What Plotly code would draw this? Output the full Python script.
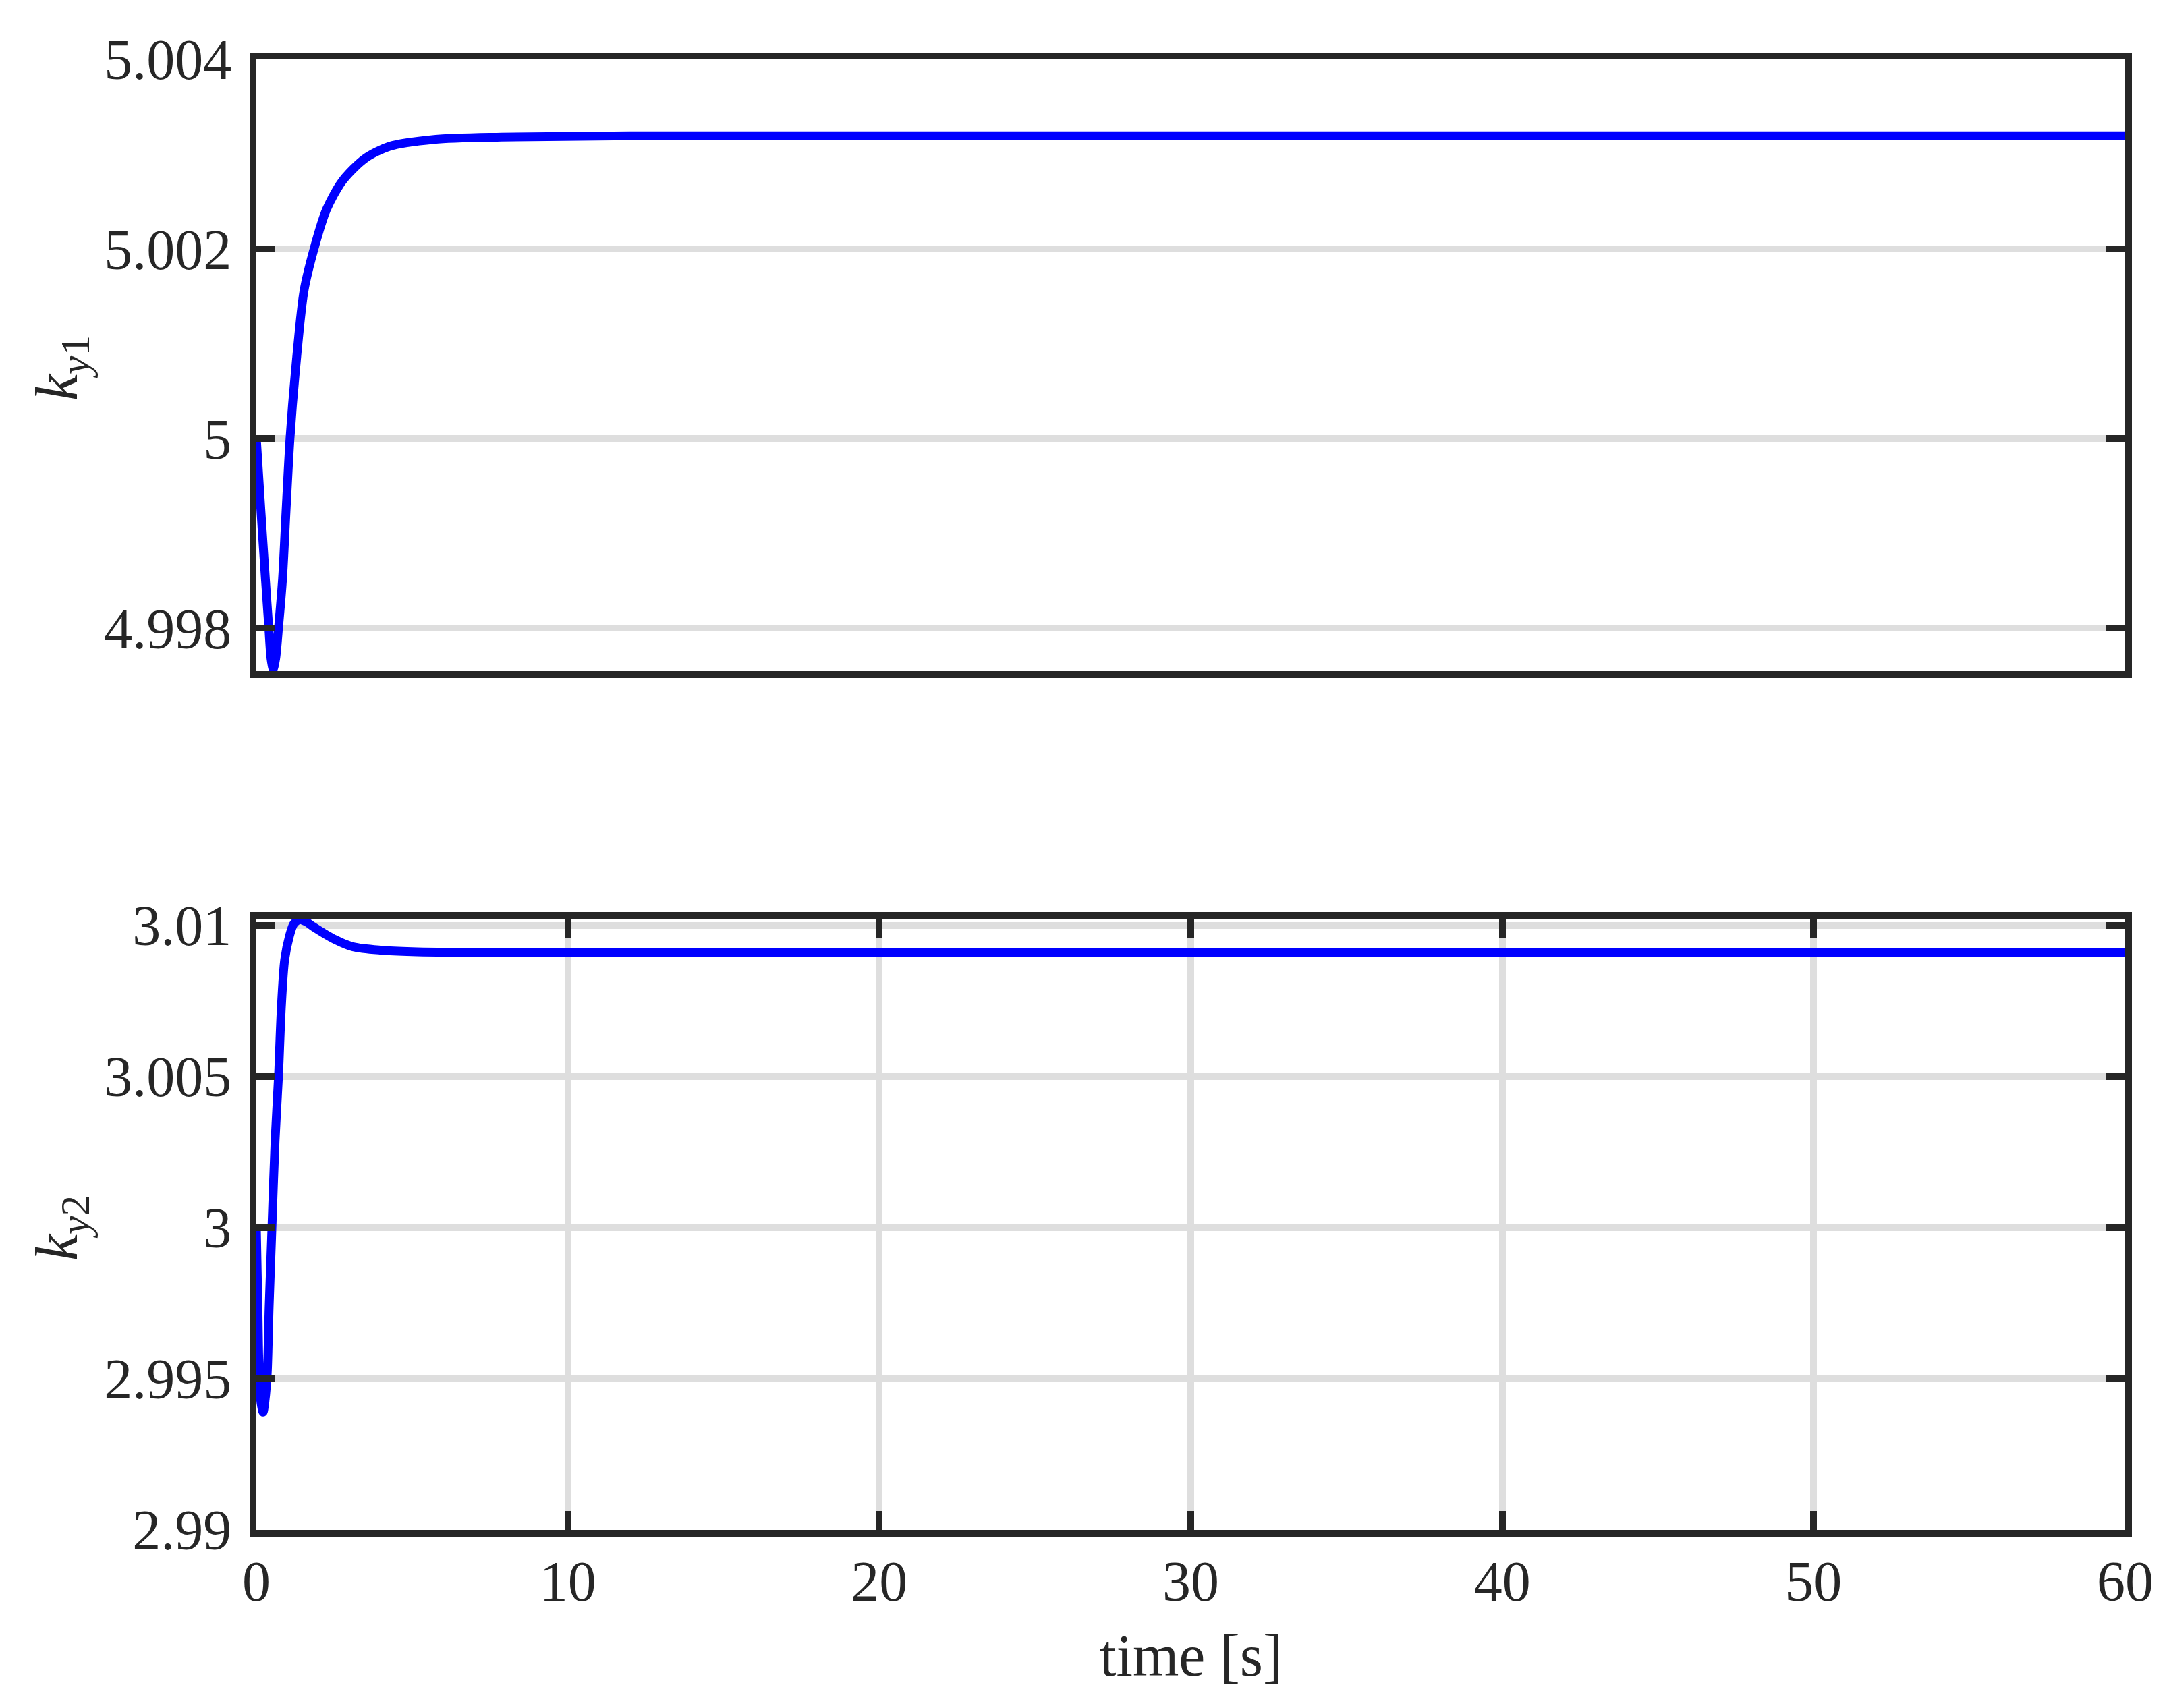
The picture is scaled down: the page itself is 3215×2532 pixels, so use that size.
import plotly.graph_objects as go
from plotly.subplots import make_subplots

# ---- data ----
t_ky1 = [0, 0.15, 0.29, 0.40, 0.47, 0.54, 0.62, 0.71, 0.84, 0.95, 1.08, 1.25,
         1.53, 1.85, 2.25, 2.76, 3.48, 4.27, 5.71, 7.87, 12, 60]
ky1 = [5.0, 4.99922, 4.99852, 4.998, 4.99768, 4.99757, 4.99768, 4.998, 4.99852,
       4.99922, 5.0, 5.0007, 5.00156, 5.002, 5.002416, 5.002717, 5.002953,
       5.003082, 5.003155, 5.00318, 5.003195, 5.003195]

t_ky2 = [0, 0.05, 0.09, 0.15, 0.216, 0.28, 0.35, 0.41, 0.50, 0.60, 0.71, 0.80,
         0.91, 1.06, 1.2, 1.38, 1.6, 1.81, 2.53, 3.11, 4.0, 5.0, 7.0, 60]
ky2 = [3.0, 2.99738, 2.99519, 2.9942, 2.9939, 2.9943, 2.9952, 2.99738, 3.0,
       3.00286, 3.005, 3.00725, 3.00887, 3.00964, 3.01005, 3.01019, 3.01012,
       3.00997, 3.00953, 3.00929, 3.00918, 3.00913, 3.0091, 3.0091]

x_ticks = [0, 10, 20, 30, 40, 50, 60]
x_ticktext = ["0", "10", "20", "30", "40", "50", "60"]
y1_ticks = [4.998, 5.0, 5.002, 5.004]
y1_ticktext = ["4.998", "5", "5.002", "5.004"]
y2_ticks = [2.99, 2.995, 3.0, 3.005, 3.01]
y2_ticktext = ["2.99", "2.995", "3", "3.005", "3.01"]

y1_label = "<i>k</i><sub><i>y</i>1</sub>"
y2_label = "<i>k</i><sub><i>y</i>2</sub>"
x_label = "time [s]"

# ---- styling ----
W, H = 3215, 2532
ML, MR, MT, MB = 372, 73, 80, 272
FONT = "Liberation Serif"
FS = 84
FS_T = 88
AX = "#262626"
GRID = "#dedede"
BLUE = "#0000ff"

fig = make_subplots(rows=2, cols=1, vertical_spacing=0.0)

fig.add_trace(go.Scatter(x=t_ky1, y=ky1, mode="lines",
                         line=dict(color=BLUE, width=13, shape="spline", smoothing=0.8),
                         showlegend=False), row=1, col=1)
fig.add_trace(go.Scatter(x=t_ky2, y=ky2, mode="lines",
                         line=dict(color=BLUE, width=13, shape="spline", smoothing=0.8),
                         showlegend=False), row=2, col=1)

common_axis = dict(showline=True, linecolor=AX, linewidth=10, mirror=True,
                   tickcolor=AX, tickwidth=10, ticklen=28, zeroline=False,
                   gridcolor=GRID, gridwidth=10,
                   tickfont=dict(family=FONT, size=FS, color=AX))

plot_w = W - ML - MR
plot_h = H - MT - MB

# top plot
fig.update_xaxes(common_axis, row=1, col=1, range=[0, 60], showgrid=False,
                 ticks="", showticklabels=False, mirror=True,
                 domain=[0, 1])
fig.update_yaxes(common_axis, row=1, col=1, range=[4.997547, 5.004],
                 tickmode="array", tickvals=y1_ticks, ticktext=y1_ticktext,
                 ticks="inside", mirror="ticks", showgrid=True,
                 ticklabelstandoff=10,
                 domain=[(H - MB - 987) / plot_h, 1.0])
# bottom plot
fig.update_xaxes(common_axis, row=2, col=1, range=[0, 60],
                 tickmode="array", tickvals=x_ticks, ticktext=x_ticktext,
                 ticks="inside", mirror="ticks", showgrid=True,
                 ticklabelstandoff=-6,
                 domain=[0, 1])
fig.update_yaxes(common_axis, row=2, col=1, range=[2.99, 3.01022],
                 tickmode="array", tickvals=y2_ticks, ticktext=y2_ticktext,
                 ticks="inside", mirror="ticks", showgrid=True,
                 ticklabelstandoff=10,
                 domain=[0.0, (H - MB - 1354) / plot_h])


def px_to_paper_x(px):
    return (px - ML) / plot_w


def px_to_paper_y(py):
    return (H - MB - py) / plot_h


annotations = [
    dict(text=y1_label, x=px_to_paper_x(82), y=px_to_paper_y(538),
         xref="paper", yref="paper", showarrow=False, textangle=-90,
         xanchor="center", yanchor="middle",
         font=dict(family=FONT, size=FS_T, color=AX)),
    dict(text=y2_label, x=px_to_paper_x(82), y=px_to_paper_y(1813),
         xref="paper", yref="paper", showarrow=False, textangle=-90,
         xanchor="center", yanchor="middle",
         font=dict(family=FONT, size=FS_T, color=AX)),
    dict(text=x_label, x=0.5, y=px_to_paper_y(2446),
         xref="paper", yref="paper", showarrow=False,
         xanchor="center", yanchor="middle",
         font=dict(family=FONT, size=FS_T, color=AX)),
]

fig.update_layout(width=W, height=H,
                  margin=dict(l=ML, r=MR, t=MT, b=MB, autoexpand=False),
                  paper_bgcolor="white", plot_bgcolor="white",
                  annotations=annotations,
                  font=dict(family=FONT, size=FS, color=AX))

fig.write_html("out.html")
